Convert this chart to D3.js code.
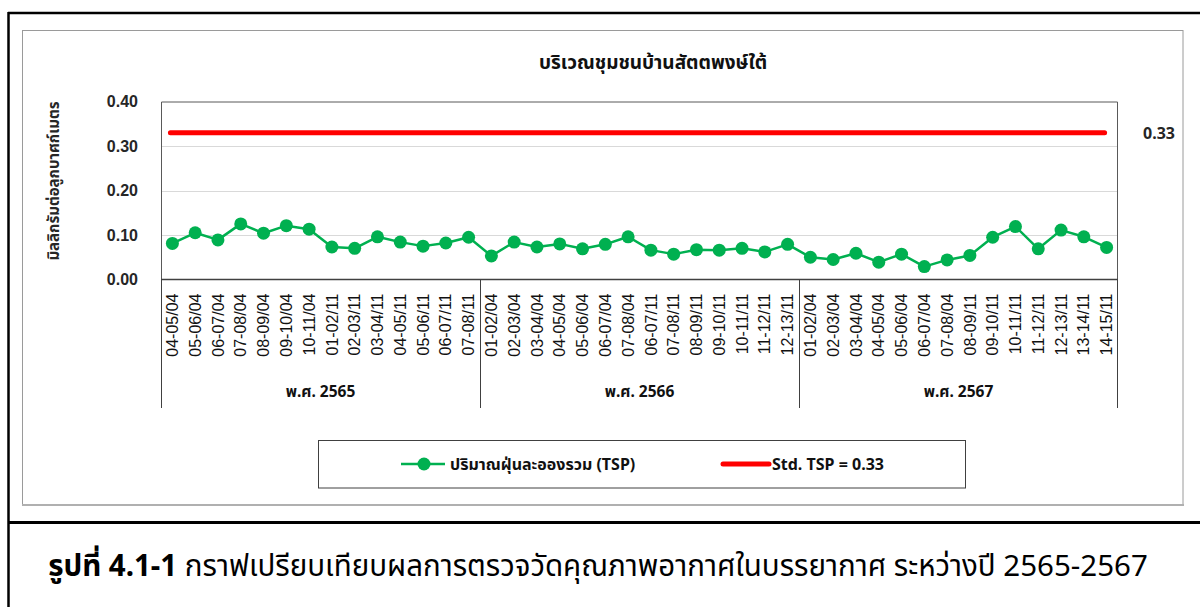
<!DOCTYPE html>
<html>
<head>
<meta charset="utf-8">
<script src="https://cdn.jsdelivr.net/npm/d3@7"></script>
<style>
  html, body { margin: 0; padding: 0; background: #fff; }
  svg { display: block; font-family: Tahoma, "Noto Sans", "Noto Sans Thai", "DejaVu Sans", sans-serif; }
</style>
</head>
<body>
<svg id="chart" width="1200" height="607"></svg>
<script>
const categories = [
  "04-05/04","05-06/04","06-07/04","07-08/04","08-09/04","09-10/04","10-11/04",
  "01-02/11","02-03/11","03-04/11","04-05/11","05-06/11","06-07/11","07-08/11",
  "01-02/04","02-03/04","03-04/04","04-05/04","05-06/04","06-07/04","07-08/04",
  "06-07/11","07-08/11","08-09/11","09-10/11","10-11/11","11-12/11","12-13/11",
  "01-02/04","02-03/04","03-04/04","04-05/04","05-06/04","06-07/04","07-08/04",
  "08-09/11","09-10/11","10-11/11","11-12/11","12-13/11","13-14/11","14-15/11"
];
const groups = ["พ.ศ. 2565", "พ.ศ. 2566", "พ.ศ. 2567"];
const groupSizes = [14, 14, 14];
const tspValues = [
  0.081,0.105,0.089,0.125,0.104,0.121,0.113,0.073,0.070,0.096,0.084,0.075,0.082,0.095,
  0.053,0.084,0.073,0.080,0.069,0.079,0.096,0.066,0.057,0.067,0.066,0.070,0.062,0.079,
  0.050,0.045,0.059,0.039,0.057,0.029,0.044,0.054,0.095,0.119,0.069,0.111,0.096,0.072
];
const stdValue = 0.33;
const yTicks = [0, 0.1, 0.2, 0.3, 0.4];
const chartTitle = "บริเวณชุมชนบ้านสัตตพงษ์ใต้";
const yTitle = "มิลลิกรัมต่อลูกบาศก์เมตร";
const seriesName = "ปริมาณฝุ่นละอองรวม (TSP)";
const stdName = "Std. TSP = 0.33";
const captionBold = "รูปที่ 4.1-1";
const captionText = " กราฟเปรียบเทียบผลการตรวจวัดคุณภาพอากาศในบรรยากาศ ระหว่างปี 2565-2567";

const svg = d3.select("#chart");
const green = "#00B050", red = "#FF0000";

// Outer frame
svg.append("line").attr("x1", 8).attr("x2", 1200).attr("y1", 13).attr("y2", 13).attr("stroke", "#000").attr("stroke-width", 2.5);
svg.append("line").attr("x1", 8.5).attr("x2", 8.5).attr("y1", 12).attr("y2", 607).attr("stroke", "#000").attr("stroke-width", 2.5);
svg.append("line").attr("x1", 8).attr("x2", 1200).attr("y1", 522.5).attr("y2", 522.5).attr("stroke", "#000").attr("stroke-width", 3);

// Chart area border
svg.append("rect").attr("x", 22.5).attr("y", 30.5).attr("width", 1160.5).attr("height", 474)
  .attr("fill", "#fff").attr("stroke", "#9a9a9a").attr("stroke-width", 1);
svg.append("line").attr("x1", 22).attr("x2", 1184).attr("y1", 505).attr("y2", 505).attr("stroke", "#b0b0b0").attr("stroke-width", 2);

const plotL = 161, plotR = 1118, plotT = 101.5, plotB = 279.5;

const x = d3.scaleBand().domain(d3.range(categories.length)).range([plotL, plotR]).paddingInner(0).paddingOuter(0);
const y = d3.scaleLinear().domain([0, 0.4]).range([plotB, plotT]);
const cx = i => x(i) + x.bandwidth() / 2;

// Gridlines
svg.append("g").selectAll("line").data(yTicks.filter(t => t > 0 && t < 0.4)).join("line")
  .attr("x1", plotL).attr("x2", plotR)
  .attr("y1", d => Math.round(y(d)) + 0.5).attr("y2", d => Math.round(y(d)) + 0.5)
  .attr("stroke", "#d9d9d9").attr("stroke-width", 1);

// Plot border (top, left, right)
svg.append("path")
  .attr("d", `M${plotL + 0.5},${plotB} V${plotT + 0.5} H${plotR - 0.5} V${plotB}`)
  .attr("fill", "none").attr("stroke", "#595959").attr("stroke-width", 1);

// Y axis labels
const yAxis = d3.axisLeft(y).tickValues(yTicks).tickFormat(d3.format(".2f")).tickSize(0).tickPadding(0);
const yg = svg.append("g").attr("transform", `translate(138,0)`).call(yAxis);
yg.select(".domain").remove();
yg.selectAll("text").attr("font-size", 16).attr("font-weight", "bold").attr("fill", "#262626").attr("text-anchor", "end");

// Y title
svg.append("text").attr("transform", `translate(59,181) rotate(-90)`)
  .attr("text-anchor", "middle").attr("font-size", 15).attr("font-weight", "bold").attr("fill", "#262626")
  .text(yTitle);

// Chart title
svg.append("text").attr("x", 653).attr("y", 69).attr("text-anchor", "middle")
  .attr("font-size", 19).attr("font-weight", "bold").attr("fill", "#111").text(chartTitle);

// Category labels
const xAxis = d3.axisBottom(x).tickFormat(i => categories[i]).tickSize(0).tickPadding(0);
const xg = svg.append("g").attr("transform", `translate(0,${plotB})`).call(xAxis);
xg.select(".domain").remove();
xg.selectAll("text")
  .attr("transform", "translate(0,14) rotate(-90)")
  .attr("text-anchor", "end").attr("dy", "0.35em").attr("x", 0).attr("y", 0)
  .attr("font-size", 16).attr("fill", "#111");

// Group separators
let bounds = [0];
groupSizes.forEach((s, i) => bounds.push(bounds[i] + s));
svg.append("g").selectAll("line").data(bounds).join("line")
  .attr("x1", b => b < categories.length ? x(b) + 0.5 : plotR - 0.5)
  .attr("x2", b => b < categories.length ? x(b) + 0.5 : plotR - 0.5)
  .attr("y1", plotB).attr("y2", 408)
  .attr("stroke", "#404040").attr("stroke-width", 1);

// Group labels
svg.append("g").selectAll("text").data(groups).join("text")
  .attr("x", (g, i) => (x(bounds[i]) + (bounds[i + 1] < categories.length ? x(bounds[i + 1]) : plotR)) / 2)
  .attr("y", 397).attr("text-anchor", "middle").attr("font-size", 15.5).attr("font-weight", "bold").attr("fill", "#111")
  .text(g => g);

// X axis line
svg.append("line").attr("x1", plotL).attr("x2", plotR).attr("y1", plotB).attr("y2", plotB)
  .attr("stroke", "#404040").attr("stroke-width", 1.5);

// Std line
svg.append("line")
  .attr("x1", cx(0) - 2).attr("x2", cx(categories.length - 1) - 2)
  .attr("y1", y(stdValue)).attr("y2", y(stdValue))
  .attr("stroke", red).attr("stroke-width", 5).attr("stroke-linecap", "round");
svg.append("text").attr("x", 1143).attr("y", y(stdValue) + 6).attr("font-size", 16).attr("font-weight", "bold")
  .attr("fill", "#262626").text(d3.format(".2f")(stdValue));

// TSP line
const line = d3.line().x((d, i) => cx(i)).y(d => y(d));
svg.append("path").datum(tspValues).attr("d", line).attr("fill", "none")
  .attr("stroke", green).attr("stroke-width", 2.5).attr("stroke-linejoin", "round");
svg.append("g").selectAll("circle").data(tspValues).join("circle")
  .attr("cx", (d, i) => cx(i)).attr("cy", d => y(d)).attr("r", 6.5).attr("fill", green);

// Legend
svg.append("rect").attr("x", 318.5).attr("y", 440.5).attr("width", 647).attr("height", 47.5)
  .attr("fill", "#fff").attr("stroke", "#404040").attr("stroke-width", 1);
svg.append("line").attr("x1", 401).attr("x2", 445).attr("y1", 464).attr("y2", 464).attr("stroke", green).attr("stroke-width", 2.5);
svg.append("circle").attr("cx", 424).attr("cy", 464).attr("r", 6.5).attr("fill", green);
svg.append("text").attr("x", 450).attr("y", 470).attr("font-size", 16).attr("font-weight", "bold").attr("fill", "#111").text(seriesName);
svg.append("line").attr("x1", 723).attr("x2", 769).attr("y1", 464).attr("y2", 464).attr("stroke", red).attr("stroke-width", 5).attr("stroke-linecap", "round");
svg.append("text").attr("x", 772).attr("y", 470).attr("font-size", 16).attr("font-weight", "bold").attr("fill", "#111").text(stdName);

// Caption
const cap = svg.append("text").attr("x", 598).attr("y", 576).attr("text-anchor", "middle").attr("font-size", 29.5).attr("fill", "#000");
cap.append("tspan").attr("font-weight", "bold").text(captionBold);
cap.append("tspan").text(captionText);
</script>
</body>
</html>
